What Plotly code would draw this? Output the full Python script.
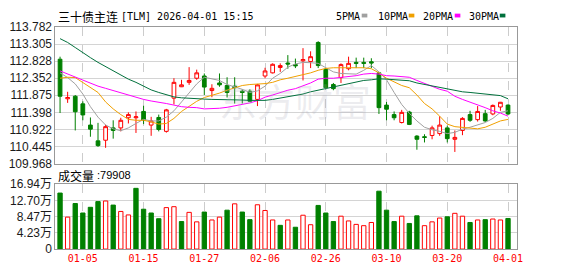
import plotly.graph_objects as go

dates = ["12-29", "12-30", "12-31",
         "01-05", "01-06", "01-07", "01-08", "01-09", "01-12", "01-13", "01-14", "01-15",
         "01-16", "01-19", "01-20", "01-21", "01-22", "01-23", "01-26", "01-27",
         "01-28", "01-29", "01-30", "02-02", "02-03", "02-04", "02-05", "02-06",
         "02-09", "02-10", "02-11", "02-12", "02-13", "02-24", "02-25", "02-26",
         "02-27", "03-02", "03-03", "03-04", "03-05", "03-06", "03-09", "03-10",
         "03-11", "03-12", "03-13", "03-16", "03-17", "03-18", "03-19", "03-20",
         "03-23", "03-24", "03-25", "03-26", "03-27", "03-30", "03-31", "04-01"]
tick_dates = ["01-05", "01-15", "01-27", "02-06", "02-26", "03-10", "03-20", "04-01"]

open_ = [112.881, 111.777, 111.848, 111.636, 111.044, 110.603, 110.621, 110.965, 110.965, 111.248,
         111.248, 111.424, 111.044, 111.256, 110.868, 111.795, 112.113, 112.236, 112.351, 112.413,
         112.007, 112.219, 112.148, 112.130, 111.989, 111.989, 111.760, 112.413, 112.501, 112.651,
         112.775, 112.731, 112.837, 112.819, 113.349, 112.598, 112.175, 112.369, 112.616, 112.793,
         112.793, 112.810, 112.501, 111.601, 111.336, 111.115, 111.407, 110.736, 110.718, 110.753,
         110.806, 110.965, 110.647, 110.894, 111.336, 111.195, 111.362, 111.354, 111.548, 111.601]
high = [112.952, 111.972, 111.883, 111.707, 111.256, 111.106, 111.053, 111.177, 111.248, 111.398,
        111.424, 111.583, 111.274, 111.336, 111.495, 112.351, 112.307, 112.660, 112.590, 112.484,
        112.183, 112.484, 112.378, 112.378, 112.042, 112.042, 112.192, 112.643, 112.766, 112.766,
        112.996, 112.899, 113.190, 113.102, 113.384, 112.634, 112.219, 112.766, 112.952, 112.925,
        112.925, 112.908, 112.528, 111.689, 111.424, 111.468, 111.442, 110.762, 110.788, 111.027,
        111.292, 111.027, 110.894, 111.265, 111.442, 111.574, 111.468, 111.618, 111.689, 111.618]
low = [111.380, 111.663, 110.894, 111.177, 110.718, 110.435, 110.409, 110.665, 110.868, 111.089,
       110.824, 111.071, 110.744, 110.868, 110.833, 111.618, 112.104, 112.166, 112.307, 111.883,
       111.821, 112.113, 111.813, 111.645, 111.645, 111.689, 111.574, 112.351, 112.484, 112.528,
       112.616, 112.634, 112.289, 112.634, 112.634, 112.042, 112.016, 112.219, 112.572, 112.634,
       112.634, 112.634, 111.354, 111.177, 111.177, 111.089, 111.044, 110.356, 110.559, 110.647,
       110.744, 110.559, 110.294, 110.762, 111.133, 111.142, 111.133, 111.318, 111.442, 111.318]
close = [111.848, 111.813, 111.415, 111.327, 110.930, 110.471, 111.000, 110.894, 111.177, 111.336,
         111.274, 111.186, 111.159, 110.921, 111.468, 112.236, 112.166, 112.289, 112.501, 112.104,
         112.069, 112.166, 111.954, 112.086, 111.954, 111.707, 112.166, 112.554, 112.740, 112.704,
         112.748, 112.696, 112.872, 112.952, 112.704, 112.086, 112.060, 112.731, 112.766, 112.766,
         112.766, 112.775, 111.530, 111.486, 111.248, 111.398, 111.062, 110.647, 110.700, 110.965,
         111.044, 110.665, 110.700, 111.230, 111.177, 111.424, 111.159, 111.592, 111.680, 111.354]

ma5 = [112.501, 112.369, 112.192, 111.910, 111.557, 111.265, 111.045, 110.939, 110.886, 110.965,
       111.089, 111.203, 111.159, 111.159, 111.265, 111.442, 111.689, 111.954, 112.192, 112.378,
       112.325, 112.289, 112.175, 112.113, 112.042, 111.954, 111.998, 112.130, 112.351, 112.484,
       112.660, 112.749, 112.793, 112.784, 112.766, 112.643, 112.528, 112.484, 112.466, 112.466,
       112.572, 112.704, 112.528, 112.307, 111.954, 111.618, 111.371, 111.159, 110.983, 110.912,
       110.868, 110.806, 110.841, 110.930, 110.983, 111.045, 111.115, 111.230, 111.398, 111.442]
ma10 = [112.351, 112.378, 112.369, 112.236, 112.086, 111.954, 111.689, 111.495, 111.336, 111.203,
        111.177, 111.177, 111.133, 111.071, 111.089, 111.230, 111.424, 111.557, 111.707, 111.813,
        111.866, 111.936, 112.016, 112.086, 112.148, 112.175, 112.184, 112.201, 112.236, 112.307,
        112.351, 112.395, 112.440, 112.501, 112.572, 112.625, 112.643, 112.643, 112.643, 112.643,
        112.643, 112.616, 112.501, 112.351, 112.245, 112.148, 112.086, 111.883, 111.645, 111.495,
        111.292, 111.071, 111.000, 110.983, 110.956, 110.939, 110.983, 111.071, 111.159, 111.203]
ma20 = [112.554, 112.466, 112.378, 112.289, 112.219, 112.130, 112.069, 112.007, 111.936, 111.883,
        111.822, 111.760, 111.716, 111.689, 111.645, 111.601, 111.557, 111.539, 111.530, 111.495,
        111.495, 111.513, 111.539, 111.574, 111.618, 111.663, 111.724, 111.822, 111.883, 111.954,
        112.016, 112.060, 112.130, 112.219, 112.325, 112.351, 112.351, 112.369, 112.395, 112.422,
        112.466, 112.484, 112.466, 112.422, 112.413, 112.395, 112.378, 112.289, 112.201, 112.130,
        112.042, 111.989, 111.848, 111.760, 111.689, 111.601, 111.530, 111.442, 111.380, 111.292]
ma30 = [113.455, 113.349, 113.208, 113.058, 112.925, 112.793, 112.678, 112.554, 112.440, 112.325,
        112.236, 112.130, 112.025, 111.954, 111.883, 111.830, 111.804, 111.786, 111.777, 111.769,
        111.760, 111.760, 111.760, 111.751, 111.742, 111.733, 111.733, 111.733, 111.760, 111.795,
        111.822, 111.866, 111.910, 111.972, 112.016, 112.060, 112.095, 112.148, 112.201, 112.245,
        112.289, 112.307, 112.334, 112.325, 112.307, 112.289, 112.281, 112.219, 112.175, 112.130,
        112.086, 112.042, 111.998, 111.972, 111.954, 111.936, 111.919, 111.892, 111.866, 111.777]

volume = [146300, 83500, 119000, 94200, 109100, 124000, 125600, 114900, 98300, 89200,
          158700, 104100, 94200, 79300, 108300, 110700, 71900, 95900, 71100, 96700,
          76000, 83500, 101600, 118200, 96700, 76900, 115700, 100800, 76000, 62000,
          76000, 57000, 88400, 63600, 114000, 94200, 71900, 85900, 73500, 64500,
          61100, 69400, 151200, 101600, 71900, 85900, 66900, 86800, 61100, 71100,
          81000, 84300, 93400, 85900, 69400, 76000, 76900, 78500, 76000, 79908]
vol_up = [0, 1, 0, 0, 0, 0, 1, 0, 1, 1,
          0, 0, 0, 0, 1, 1, 0, 1, 1, 0,
          1, 1, 0, 1, 0, 0, 1, 1, 1, 0,
          1, 0, 1, 1, 0, 0, 0, 1, 1, 1,
          1, 1, 0, 0, 0, 1, 0, 0, 1, 1,
          1, 0, 1, 1, 0, 1, 0, 1, 1, 0]

price_ticks = [109.968, 110.445, 110.922, 111.398, 111.875, 112.352, 112.828, 113.305, 113.782]
vol_ticks = [0, 42300, 84700, 127000, 169400]
vol_tick_text = ["0", "4.23万", "8.47万", "12.70万", "16.94万"]
ma_names = ["5PMA", "10PMA", "20PMA", "30PMA"]
ma_colors = ["#a0a0a0", "#f0a000", "#ff00ff", "#00703c"]

W, H = 578, 276
RED, GREEN = "#ff0000", "#008000"

def px(v):
    return v / W

def py(v):
    return 1 - v / H

fig = go.Figure()
fig.add_trace(go.Candlestick(
    x=dates, open=open_, high=high, low=low, close=close,
    increasing=dict(line=dict(color=RED, width=1), fillcolor="#ffffff"),
    decreasing=dict(line=dict(color=GREEN, width=1), fillcolor=GREEN),
    whiskerwidth=0, xaxis="x", yaxis="y", hoverinfo="skip"))
for vals, col in zip([ma5, ma10, ma20, ma30], ma_colors):
    fig.add_trace(go.Scatter(x=dates, y=vals, mode="lines", line=dict(color=col, width=1),
                             xaxis="x", yaxis="y", hoverinfo="skip"))
fig.add_trace(go.Bar(
    x=dates, y=volume, width=0.57,
    marker=dict(color=["#ffffff" if u else GREEN for u in vol_up],
                line=dict(color=[RED if u else GREEN for u in vol_up], width=1)),
    xaxis="x2", yaxis="y2", hoverinfo="skip"))

xr = [-0.61, 60.22]
common_x = dict(type="category", categoryorder="array", categoryarray=dates, range=xr,
                tickvals=tick_dates, showgrid=True, gridcolor="#cccccc", griddash="dash",
                gridwidth=1, showline=True, mirror=True, linecolor="#999999", linewidth=1,
                ticks="", zeroline=False, fixedrange=True)
fig.update_layout(
    width=W, height=H, margin=dict(l=0, r=0, t=0, b=0),
    paper_bgcolor="white", plot_bgcolor="white", showlegend=False, hovermode=False,
    xaxis=dict(domain=[px(56), px(522.7)], anchor="y", showticklabels=False,
               rangeslider=dict(visible=False), **common_x),
    xaxis2=dict(domain=[px(56), px(522.7)], anchor="y2", showticklabels=True,
                tickfont=dict(family="DejaVu Sans Mono", size=10, color=RED), **common_x),
    yaxis=dict(domain=[py(165), py(21)], range=[109.9679, 113.7821], tickvals=price_ticks,
               ticktext=["%.3f" % v for v in price_ticks], showgrid=True, gridcolor="#d4d4d4",
               showline=True, mirror=True, linecolor="#999999", linewidth=1, ticks="",
               zeroline=False, tickfont=dict(family="Liberation Sans", size=12, color="#1a1a1a")),
    yaxis2=dict(domain=[py(255), py(186.7)], range=[0, 169401], tickvals=vol_ticks,
                ticktext=vol_tick_text, showgrid=True, gridcolor="#d4d4d4",
                showline=True, mirror=True, linecolor="#999999", linewidth=1, ticks="",
                zeroline=False, tickfont=dict(family="Liberation Sans, Noto Sans CJK SC", size=12, color="#1a1a1a")),
)

ann = []
ann.append(dict(x=px(57), y=py(10), xref="paper", yref="paper", xanchor="left", yanchor="middle",
                text="三十债主连", showarrow=False,
                font=dict(family="Noto Sans CJK SC", size=12, color="#000000")))
ann.append(dict(x=px(120.5), y=py(10), xref="paper", yref="paper", xanchor="left", yanchor="middle",
                text="[TLM] 2026-04-01 15:15", showarrow=False,
                font=dict(family="DejaVu Sans Mono", size=10, color="#000000")))
ann.append(dict(x=px(57), y=py(177.5), xref="paper", yref="paper", xanchor="left", yanchor="middle",
                text="成交量", showarrow=False,
                font=dict(family="Noto Sans CJK SC", size=12, color="#000000")))
ann.append(dict(x=px(95.5), y=py(177.5), xref="paper", yref="paper", xanchor="left", yanchor="middle",
                text=":%d" % volume[-1], showarrow=False,
                font=dict(family="Liberation Sans", size=11, color="#000000")))
ann.append(dict(x=px(298), y=py(97), xref="paper", yref="paper", xanchor="center", yanchor="middle",
                text="东方财富", showarrow=False,
                font=dict(family="Noto Sans CJK SC", size=38, color="rgba(170,170,185,0.22)")))

legend_x = [338, 380, 425.7, 471.7]
square_x = [365.5, 413, 459.5, 505]
shapes = []
for name, col, lx, sx in zip(ma_names, ma_colors, legend_x, square_x):
    ann.append(dict(x=px(lx), y=py(10), xref="paper", yref="paper", xanchor="left", yanchor="middle",
                    text=name, showarrow=False,
                    font=dict(family="DejaVu Sans Mono", size=10, color="#000000")))
    shapes.append(dict(type="rect", xref="paper", yref="paper", x0=px(sx), x1=px(sx + 5.7),
                       y0=py(11), y1=py(7), fillcolor=col, line=dict(width=0)))
fig.update_layout(annotations=ann, shapes=shapes)

fig.write_html("out.html", config={"displayModeBar": False})
